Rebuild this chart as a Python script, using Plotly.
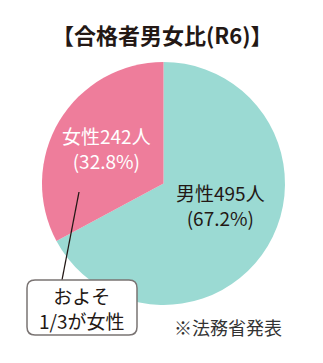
import plotly.graph_objects as go

W, H = 323, 363

labels = ["男性", "女性"]
counts = [495, 242]
percents = [67.2, 32.8]
colors = ["#9BDAD3", "#EE7D9B"]
title_text = "【合格者男女比(R6)】"
callout_lines = ["およそ", "1/3が女性"]
source_note = "※法務省発表"

FONT = "Noto Sans CJK JP"


def px(x):
    return x / W


def py(y):
    return 1 - y / H


cx, cy, r = 163.5, 183.5, 121.5

fig = go.Figure()
fig.add_trace(go.Pie(
    labels=labels,
    values=counts,
    marker=dict(colors=colors, line=dict(width=0)),
    sort=False,
    direction="clockwise",
    rotation=0,
    textinfo="none",
    hoverinfo="label+value+percent",
    showlegend=False,
    domain=dict(x=[px(cx - r), px(cx + r)], y=[py(cy + r), py(cy - r)]),
))

annotations = []


def ann(x, y, text, size, color, weight="normal"):
    annotations.append(dict(x=px(x), y=py(y), xref="paper", yref="paper",
                            xanchor="center", yanchor="middle", align="center",
                            text=text, showarrow=False,
                            font=dict(family=FONT, size=size, color=color, weight=weight)))


# title
ann(162, 34, title_text, 22, "#231815", "bold")
# slice labels
label_pos = [(220, 205, "#231815"), (106, 148, "white")]
for lab, c, p, (lx, ly, col) in zip(labels, counts, percents, label_pos):
    ann(lx, ly, f"{lab}{c}人<br>({p}%)", 19, col)

# callout text
ann(82, 307.5, "<br>".join(callout_lines), 19, "#231815")
# source note
ann(228, 327, source_note, 18, "#333333")

# callout box (rounded rect)
x0, y0, x1, y1, rr = 27, 280, 137, 335, 8
path = (f"M {px(x0+rr)},{py(y0)} L {px(x1-rr)},{py(y0)} "
        f"Q {px(x1)},{py(y0)} {px(x1)},{py(y0+rr)} "
        f"L {px(x1)},{py(y1-rr)} Q {px(x1)},{py(y1)} {px(x1-rr)},{py(y1)} "
        f"L {px(x0+rr)},{py(y1)} Q {px(x0)},{py(y1)} {px(x0)},{py(y1-rr)} "
        f"L {px(x0)},{py(y0+rr)} Q {px(x0)},{py(y0)} {px(x0+rr)},{py(y0)} Z")

shapes = [
    dict(type="line", xref="paper", yref="paper",
         x0=px(79), y0=py(192), x1=px(62), y1=py(280),
         line=dict(color="#231815", width=1.3)),
    dict(type="path", xref="paper", yref="paper", path=path,
         fillcolor="white", line=dict(color="#7a7473", width=1.5)),
]

fig.update_layout(
    width=W, height=H,
    margin=dict(l=0, r=0, t=0, b=0),
    paper_bgcolor="white",
    plot_bgcolor="white",
    annotations=annotations,
    shapes=shapes,
)

fig.write_html("out.html")
